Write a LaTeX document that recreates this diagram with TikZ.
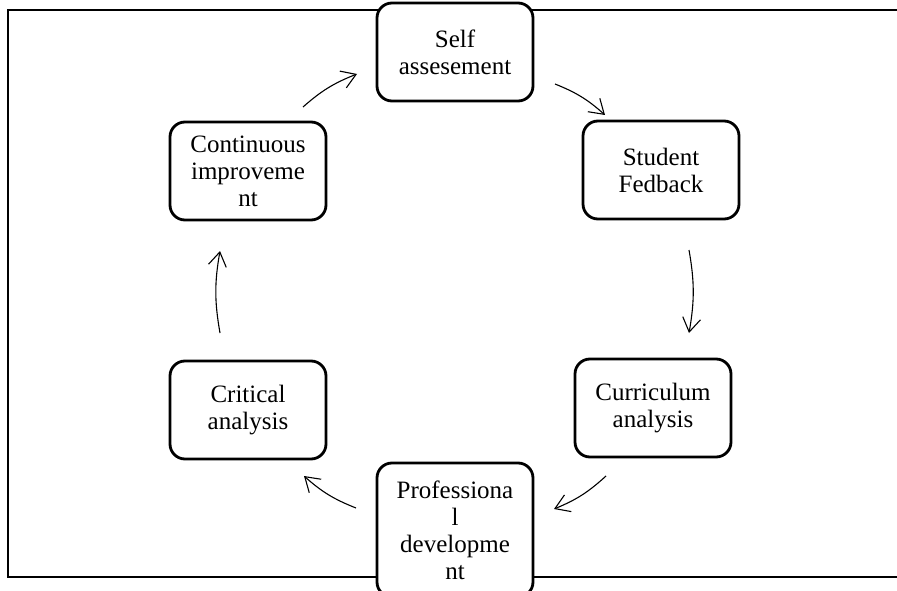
\documentclass[tikz,border=0pt]{standalone}
\usepackage{fontspec}
\setmainfont{Liberation Serif}
\usetikzlibrary{arrows.meta}
\tikzstyle{stage}=[rectangle, rounded corners=15pt, line width=2.8pt, draw=black, fill=white, minimum width=156pt, minimum height=98pt, inner sep=2pt, align=center, anchor=center, font=\fontsize{25}{27}\selectfont]
\tikzstyle{cyc}=[line width=1.1pt, -{Straight Barb[length=14pt,width=18pt,line width=1.1pt]}, bend left=10]

\begin{document}
\begin{tikzpicture}[x=1pt,y=-1pt]
	\useasboundingbox (0,0) rectangle (897,591);
	% open frame, runs off the right edge
	\draw[line width=2pt] (905,10) -- (8,10) -- (8,577) -- (905,577);

	\node[stage](self) at (455,52){Self\\assesement};
	\node[stage](feedback) at (661,170){Student\\Fedback};
	\node[stage](curric) at (653,408){Curriculum\\analysis};
	\node[stage, minimum height=134pt](profdev) at (455,530){Professiona\\l\\developme\\nt};
	\node[stage](critical) at (248,410){Critical\\analysis};
	\node[stage](improve) at (248,171){Continuous\\improveme\\nt};

	% arrow ends around the cycle
	\coordinate (a1) at (303,107);  \coordinate (b1) at (357,74);
	\coordinate (a2) at (555,84);   \coordinate (b2) at (605,115);
	\coordinate (a3) at (689,250);  \coordinate (b3) at (689,333);
	\coordinate (a4) at (606,476);  \coordinate (b4) at (554,509);
	\coordinate (a5) at (356,508);  \coordinate (b5) at (304,476);
	\coordinate (a6) at (220,333);  \coordinate (b6) at (220,251);

	\draw[cyc] (a1) to (b1);
	\draw[cyc] (a2) to (b2);
	\draw[cyc] (a3) to (b3);
	\draw[cyc] (a4) to (b4);
	\draw[cyc] (a5) to (b5);
	\draw[cyc] (a6) to (b6);

\end{tikzpicture}
\end{document}
